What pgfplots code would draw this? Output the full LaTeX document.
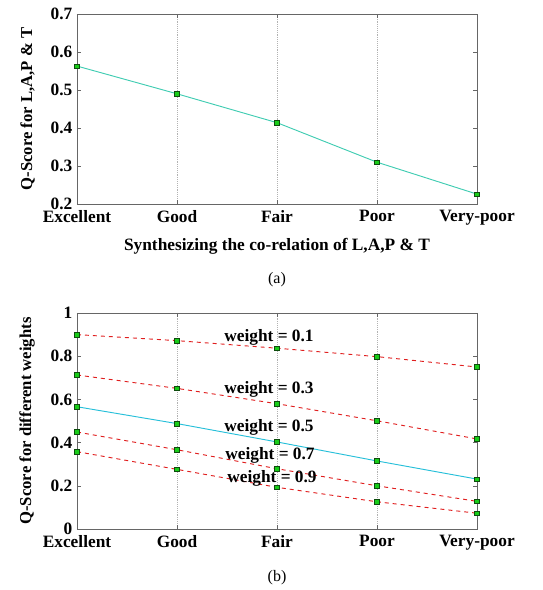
\documentclass[border=0pt]{standalone}
\usepackage{fontspec}
\setmainfont{Liberation Serif}
\usepackage{pgfplots}
\pgfplotsset{compat=1.18}
\definecolor{teal1}{rgb}{0.25,0.8,0.7}
\definecolor{cyan1}{rgb}{0.15,0.75,0.85}
\definecolor{red1}{rgb}{0.88,0.12,0.12}
\definecolor{mk}{rgb}{0.1,0.8,0.1}
\definecolor{mkd}{rgb}{0.05,0.3,0.05}
\begin{document}
\begin{tikzpicture}
\path[use as bounding box] (0,0) rectangle (407.25pt,442.5pt);
\pgfplotsset{
  mystyle/.style={
    scale only axis, width=300pt,
    xmin=0, xmax=4, xtick={0,1,2,3,4},
    xticklabels={Excellent,Good,Fair,Poor,Very-poor},
    tick align=inside, xtick pos=both, ytick pos=both,
    major tick length=3pt,
    xmajorgrids, grid style={densely dotted, gray!60},
    axis line style={gray!80!black, line width=0.6pt},
    tick style={gray!80!black},
    ticklabel style={font=\fontsize{13}{14}\selectfont\bfseries},
    xticklabel style={yshift=-1pt},
    /pgf/number format/assume math mode=true,
    xlabel style={font=\fontsize{13}{14}\selectfont\bfseries, yshift=-3pt},
    ylabel style={font=\fontsize{12.5}{14}\selectfont\bfseries, yshift=5pt},
    every axis plot/.append style={line width=0.7pt},
    mk/.style={mark=square*, mark size=1.7pt, mark options={fill=mk, draw=mkd, solid, line width=0.4pt}},
  }
}
\begin{axis}[mystyle, at={(57.75pt,289.5pt)}, anchor=south west, height=142.5pt,
  ymin=0.2, ymax=0.7, ytick={0.2,0.3,0.4,0.5,0.6,0.7},
  yticklabel style={/pgf/number format/.cd, fixed, precision=1},
  xlabel={Synthesizing the co-relation of L,A,P \& T},
  ylabel={Q-Score for L,A,P \& T},
]
\addplot[teal1, mk] coordinates {(0,0.563) (1,0.490) (2,0.414) (3,0.310) (4,0.226)};
\end{axis}
\node[font=\fontsize{12}{14}\selectfont] at (207.75pt,233pt) {(a)};
\begin{axis}[mystyle, at={(57.75pt,45.75pt)}, anchor=south west, height=162pt,
  ymin=0, ymax=1, ytick={0,0.2,0.4,0.6,0.8,1},
  ylabel={Q-Score for different weights},
]
\addplot[red1, dashed, mk] coordinates {(0,0.900) (1,0.872) (2,0.837) (3,0.798) (4,0.750)};
\addplot[red1, dashed, mk] coordinates {(0,0.713) (1,0.651) (2,0.580) (3,0.501) (4,0.417)};
\addplot[cyan1, mk] coordinates {(0,0.566) (1,0.488) (2,0.403) (3,0.315) (4,0.231)};
\addplot[red1, dashed, mk] coordinates {(0,0.449) (1,0.367) (2,0.279) (3,0.200) (4,0.128)};
\addplot[red1, dashed, mk] coordinates {(0,0.358) (1,0.276) (2,0.193) (3,0.126) (4,0.073)};
\begin{scope}[every node/.style={font=\fontsize{13}{14}\selectfont\bfseries}]
\node at (axis cs:1.92,0.889) {weight = 0.1};
\node at (axis cs:1.92,0.645) {weight = 0.3};
\node at (axis cs:1.92,0.469) {weight = 0.5};
\node at (axis cs:1.93,0.343) {weight = 0.7};
\node at (axis cs:1.95,0.235) {weight = 0.9};
\end{scope}
\end{axis}
\node[font=\fontsize{12}{14}\selectfont] at (207.75pt,9pt) {(b)};
\end{tikzpicture}
\end{document}
